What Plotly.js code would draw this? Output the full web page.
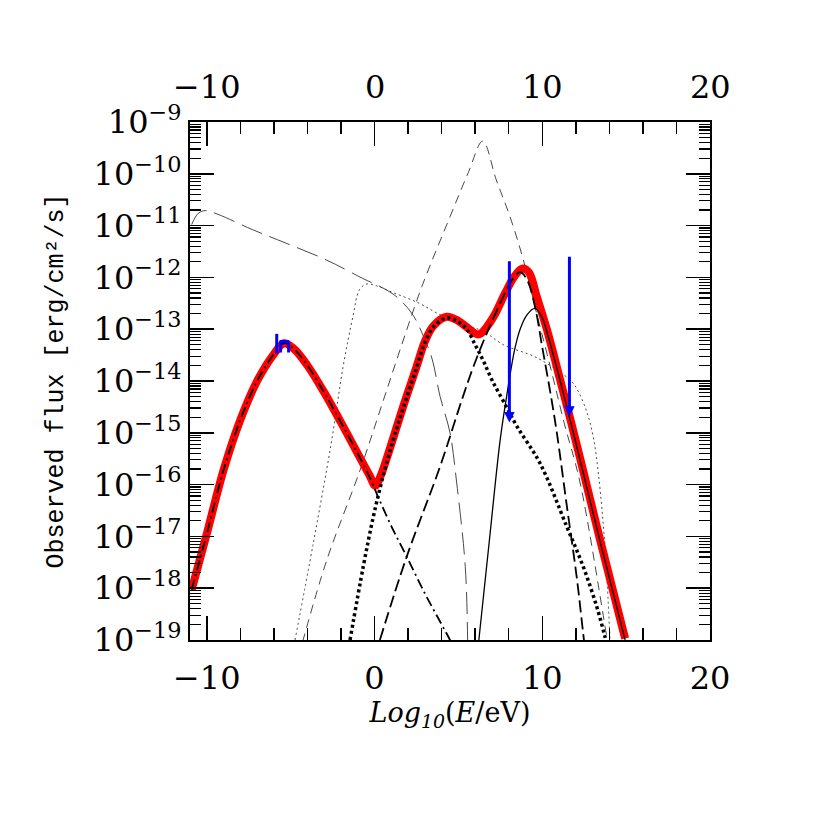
<!DOCTYPE html>
<html><head><meta charset="utf-8">
<script src="https://cdn.plot.ly/plotly-3.0.1.min.js"></script>
<style>body{margin:0;background:#fff}#chart{width:830px;height:830px}</style>
</head><body><div id="chart"></div>
<script>
// x: log10(E/eV); y: log10(observed flux [erg/cm2/s])
const totalX = [-10.9,-10,-9,-8,-7,-6,-5.4,-4.8,-4.0,-3.0,-2.0,-1.0,-0.3,0.05,0.4,0.89,1.7,2.5,3.0,3.5,4.3,5.0,5.5,6.2,6.98,7.78,8.3,8.8,9.2,9.67,10.27,11.07,11.66,12.25,13.45,14.94];
const totalLogF = [-18.03,-16.95,-15.72,-14.75,-14.0,-13.48,-13.27,-13.38,-13.7,-14.22,-14.8,-15.4,-15.82,-16.02,-15.8,-15.33,-14.5,-13.73,-13.24,-12.94,-12.76,-12.84,-12.96,-13.1,-12.82,-12.31,-12.0,-11.83,-11.9,-12.37,-13.0,-13.98,-14.72,-15.48,-17.07,-18.97];

const syncX = [-10.9,-10,-9,-8,-7,-6,-5.4,-4.8,-4.0,-3.0,-2.0,-1.0,-0.3,0.23,1.0,1.92,3.0,4.0,4.5,4.7];
const syncLogF = [-18.03,-16.95,-15.72,-14.75,-14.0,-13.48,-13.27,-13.38,-13.7,-14.22,-14.8,-15.4,-15.85,-16.25,-16.8,-17.39,-18.1,-18.7,-19.0,-19.15];

const icX = [-1.46,-0.67,-0.07,0.5,1.1,1.7,2.5,3.0,3.5,4.3,5.0,5.5,6.0,6.5,7.0,7.7,8.5,9.87,11.46,12.45,13.25,13.74,14.0];
const icLogF = [-19.0,-17.58,-16.62,-15.85,-15.15,-14.53,-13.75,-13.26,-12.96,-12.78,-12.86,-13.0,-13.3,-13.62,-13.98,-14.4,-14.88,-15.59,-16.81,-17.59,-18.36,-18.94,-19.3];

const hadX = [0.32,1.92,3.91,5.2,5.9,6.69,7.68,8.2,8.68,9.1,9.57,10.0,10.47,10.87,11.46,12.06,12.45,12.6];
const hadLogF = [-19.0,-17.39,-15.65,-14.37,-13.72,-13.08,-12.37,-12.05,-11.9,-12.05,-12.57,-13.35,-14.2,-15.0,-16.4,-17.8,-18.9,-19.3];

const secX = [6.22,6.85,7.49,7.89,8.35,8.68,9.1,9.57,10.0,10.27,11.07,11.66,12.25,13.45,14.94];
const secLogF = [-19.0,-17.07,-15.14,-14.27,-13.4,-13.0,-12.72,-12.6,-12.78,-13.05,-14.0,-14.75,-15.52,-17.1,-19.0];

const intrX = [-4.3,-2.85,-0.86,0.53,1.52,2.82,4.5,5.6,6.45,7.26,8.08,8.87,9.67,10.5,11.3,12.26,13.85,14.0];
const intrLogF = [-19.05,-17.46,-15.72,-14.37,-13.4,-12.18,-10.83,-9.97,-9.37,-10.12,-10.83,-11.66,-12.7,-13.75,-14.8,-15.97,-18.94,-19.2];

const radioX = [-10.9,-10.5,-10.05,-9.35,-7.26,-5.27,-2.89,-0.7,0.7,1.48,2.3,2.92,3.42,3.91,4.5,4.9,5.41,5.55];
const radioLogF = [-10.98,-10.76,-10.71,-10.78,-11.08,-11.34,-11.66,-12.02,-12.24,-12.42,-12.73,-13.14,-13.56,-14.3,-15.0,-15.97,-17.58,-19.0];

const cascX = [-4.74,-3.65,-2.58,-1.86,-1.29,-0.9,-0.5,0.1,1.0,2.67,3.91,5.7,6.49,7.68,9.67,11.66,12.06,12.66,13.05,13.35,13.74,14.04];
const cascLogF = [-19.0,-17.13,-15.2,-13.7,-12.76,-12.24,-12.13,-12.16,-12.28,-12.5,-12.72,-12.95,-13.04,-13.3,-13.55,-13.98,-14.15,-14.6,-15.1,-15.8,-17.2,-19.0];

// blue data: optical points with error bars
const obsX = [-5.83,-5.6,-5.12];
const obsLoLogF = [-13.47,-13.45,-13.45];
const obsHiLogF = [-13.09,-13.24,-13.24];
const obsBarX = [-5.67,-5.08];
const obsBarLogF = -13.24;
// upper limits
const ulX = [8.04,11.62];
const ulTopLogF = [-11.66,-11.57];
const ulTipLogF = [-14.8,-14.69];

const xTicks = [-10,0,10,20];
const xTickText = ['\u221210','0','10','20'];
const yTickExp = [-19,-18,-17,-16,-15,-14,-13,-12,-11,-10,-9];
const yTickVals = yTickExp.map(e => Math.pow(10,e));
const yTickText = yTickExp.map(e => '10<sup>\u2212' + Math.abs(e) + '</sup>');

const toF = a => a.map(v => Math.pow(10,v));

function ln(x, ly, color, width, dash){
  return {x:x, y:toF(ly), type:'scatter', mode:'lines', line:{color:color, width:width, dash:dash, shape:'spline', smoothing:1}, hoverinfo:'skip', showlegend:false};
}

const traces = [
  ln(intrX, intrLogF, '#333', 0.9, '9px,6px'),
  ln(radioX, radioLogF, '#333', 0.9, '22px,8px'),
  ln(cascX, cascLogF, '#333', 0.9, '2px,3px'),
  ln(totalX, totalLogF, '#ff0000', 8, 'solid'),
  ln(syncX, syncLogF, '#000', 1.8, '10px,4px,2px,4px'),
  ln(icX, icLogF, '#000', 3.5, '3px,3px'),
  ln(hadX, hadLogF, '#000', 1.8, '12px,5px'),
  ln(secX, secLogF, '#000', 1.3, 'solid')
];
// blue data points
obsX.forEach((xv,i) => {
  traces.push({x:[xv,xv], y:toF([obsLoLogF[i],obsHiLogF[i]]), type:'scatter', mode:'lines', line:{color:'#0000ff', width:3}, hoverinfo:'skip', showlegend:false});
});
traces.push({x:obsBarX, y:toF([obsBarLogF,obsBarLogF]), type:'scatter', mode:'lines', line:{color:'#0000ff', width:3}, hoverinfo:'skip', showlegend:false});

const tickFont = {family:'DejaVu Serif', size:32, color:'#000'};

const annotations = ulX.map((xv,i) => ({
  x:xv, y:ulTipLogF[i], ax:xv, ay:ulTopLogF[i], xref:'x', yref:'y', axref:'x', ayref:'y',
  showarrow:true, arrowhead:2, arrowsize:0.7, arrowwidth:3, arrowcolor:'#0000ff', text:'', standoff:0, startstandoff:0
}));
// top-axis tick labels
xTicks.forEach((xv,i) => {
  annotations.push({x:xv, xref:'x', y:1, yref:'paper', yanchor:'bottom', xanchor:'center', yshift:14,
    showarrow:false, text:xTickText[i], font:tickFont});
});

const layout = {
  width:830, height:830,
  margin:{l:190, r:120, t:122, b:190},
  paper_bgcolor:'#fff', plot_bgcolor:'#fff',
  showlegend:false,
  annotations: annotations,
  xaxis:{
    range:[-11,20], tickmode:'array', tickvals:xTicks, ticktext:xTickText,
    ticks:'inside', ticklen:24, tickwidth:1.5, tickcolor:'#000', ticklabelstandoff:9,
    showline:true, linewidth:2, linecolor:'#000', mirror:'allticks',
    showgrid:false, zeroline:false, tickfont:tickFont,
    minor:{tickmode:'linear', tick0:0, dtick:2, ticks:'inside', ticklen:12, tickwidth:1.5, tickcolor:'#000', showgrid:false},
    title:{text:'<i>Log</i><sub><i>10</i></sub>(<i>E</i>/eV)', font:{family:'DejaVu Serif', size:27, color:'#000'}, standoff:4}
  },
  yaxis:{
    type:'log', range:[-19,-9], tickmode:'array', tickvals:yTickVals, ticktext:yTickText,
    ticks:'inside', ticklen:24, tickwidth:1.5, tickcolor:'#000',
    showline:true, linewidth:2, linecolor:'#000', mirror:'allticks',
    showgrid:false, zeroline:false, tickfont:tickFont,
    minor:{dtick:'D1', ticks:'inside', ticklen:11, tickwidth:1.2, tickcolor:'#000', showgrid:false},
    title:{text:'Observed flux [erg/cm\u00b2/s]', font:{family:'Liberation Mono', size:25, color:'#000'}, standoff:23}
  }
};

Plotly.newPlot('chart', traces, layout, {staticPlot:true});
</script>
</body></html>
